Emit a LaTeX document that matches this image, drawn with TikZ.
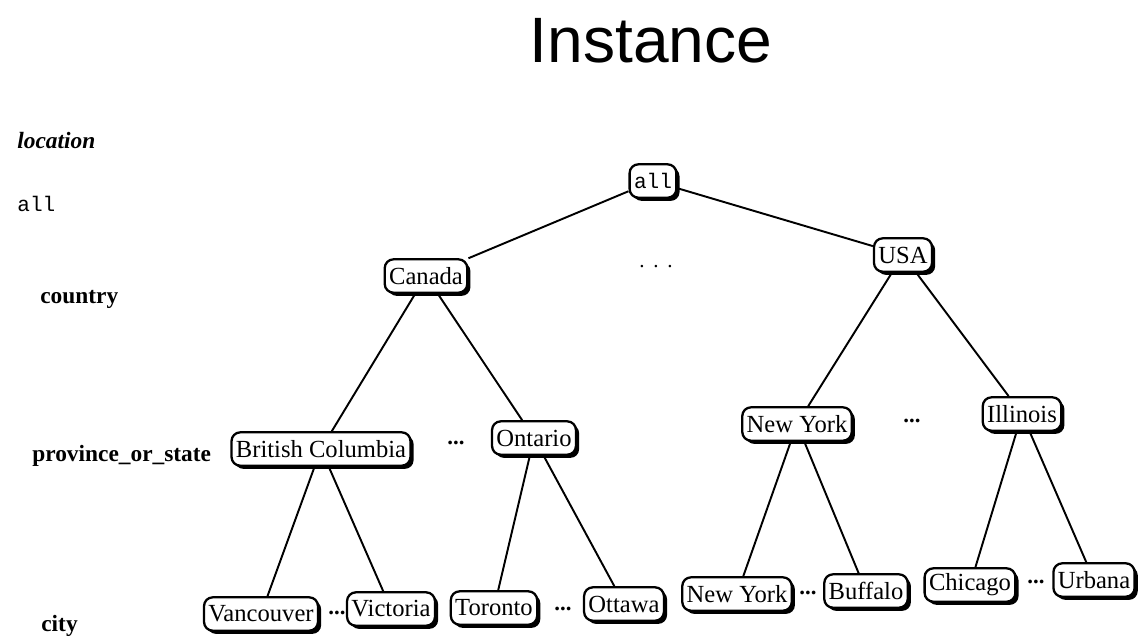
\documentclass[tikz,border=0pt]{standalone}
\usepackage{fontspec}
\setmainfont{Liberation Serif}
\setsansfont{Liberation Sans}
\setmonofont{Liberation Mono}
\usetikzlibrary{shadows}

\tikzset{
  val/.style={draw=black, line width=1.3pt, rounded corners=5pt, fill=white,
    inner xsep=2.5pt, inner ysep=0pt, minimum height=19pt,
    font=\fontsize{14}{16}\selectfont,
    drop shadow={shadow xshift=1.8pt, shadow yshift=-1.8pt, fill=black, opacity=1}},
  lvl/.style={font=\fontsize{13.3}{16}\selectfont\bfseries, anchor=base west, inner sep=0pt},
  gap/.style={font=\fontsize{13}{15}\selectfont\bfseries, inner sep=0pt},
  link/.style={line width=1.1pt}
}

\begin{document}
\begin{tikzpicture}[x=0.02cm, y=-0.02cm]
\useasboundingbox (0,0) rectangle (1147,637);

% title
\node[font=\sffamily\fontsize{36.5}{40}\selectfont, anchor=base, inner sep=0pt] (title) at (651,62) {Instance};

% hierarchy level names
\node[lvl, font=\fontsize{13.3}{16}\selectfont\bfseries\itshape] (lloc) at (17,148) {location};
\node[anchor=base west, inner sep=0pt, font=\ttfamily\fontsize{12}{14}\selectfont] (lall) at (17,211) {all};
\node[lvl] (lcountry) at (40,303) {country};
\node[lvl] (lprov) at (32,461) {province\_or\_state};
\node[lvl] (lcity) at (41,631) {city};

% tree nodes
\node[val, font=\ttfamily\fontsize{12}{14}\selectfont] (all) at (653,181) {all};
\node[val] (canada) at (426,276) {Canada};
\node[val] (usa) at (903,255) {USA};
\node[val] (bc) at (321,449) {British Columbia};
\node[val] (ontario) at (534,438) {Ontario};
\node[val] (nys) at (797,424) {New York};
\node[val] (illinois) at (1022,414) {Illinois};
\node[val] (vancouver) at (261,614) {Vancouver};
\node[val] (victoria) at (391,609) {Victoria};
\node[val] (toronto) at (494,608) {Toronto};
\node[val] (ottawa) at (624,604) {Ottawa};
\node[val] (nyc) at (737,594) {New York};
\node[val] (buffalo) at (866,591) {Buffalo};
\node[val] (chicago) at (970,585) {Chicago};
\node[val] (urbana) at (1094,580) {Urbana};

% omitted siblings
\node[gap, font=\fontsize{12}{14}\selectfont] (d0) at (656,267) {.\hspace{5pt}.\hspace{5pt}.};
\node[gap] (d1) at (456,443) {...};
\node[gap] (d2) at (912,421) {...};
\node[gap] (d3) at (337,613) {...};
\node[gap] (d4) at (563,609) {...};
\node[gap] (d5) at (808,593) {...};
\node[gap] (d6) at (1036,582) {...};

% connectors
\draw[link] (all) -- (canada);
\draw[link] (all) -- (usa);
\draw[link] (canada) -- (bc);
\draw[link] (canada) -- (ontario);
\draw[link] (usa) -- (nys);
\draw[link] (usa) -- (illinois);
\draw[link] (bc) -- (vancouver);
\draw[link] (bc) -- (victoria);
\draw[link] (ontario) -- (toronto);
\draw[link] (ontario) -- (ottawa);
\draw[link] (nys) -- (nyc);
\draw[link] (nys) -- (buffalo);
\draw[link] (illinois) -- (chicago);
\draw[link] (illinois) -- (urbana);
\end{tikzpicture}
\end{document}
